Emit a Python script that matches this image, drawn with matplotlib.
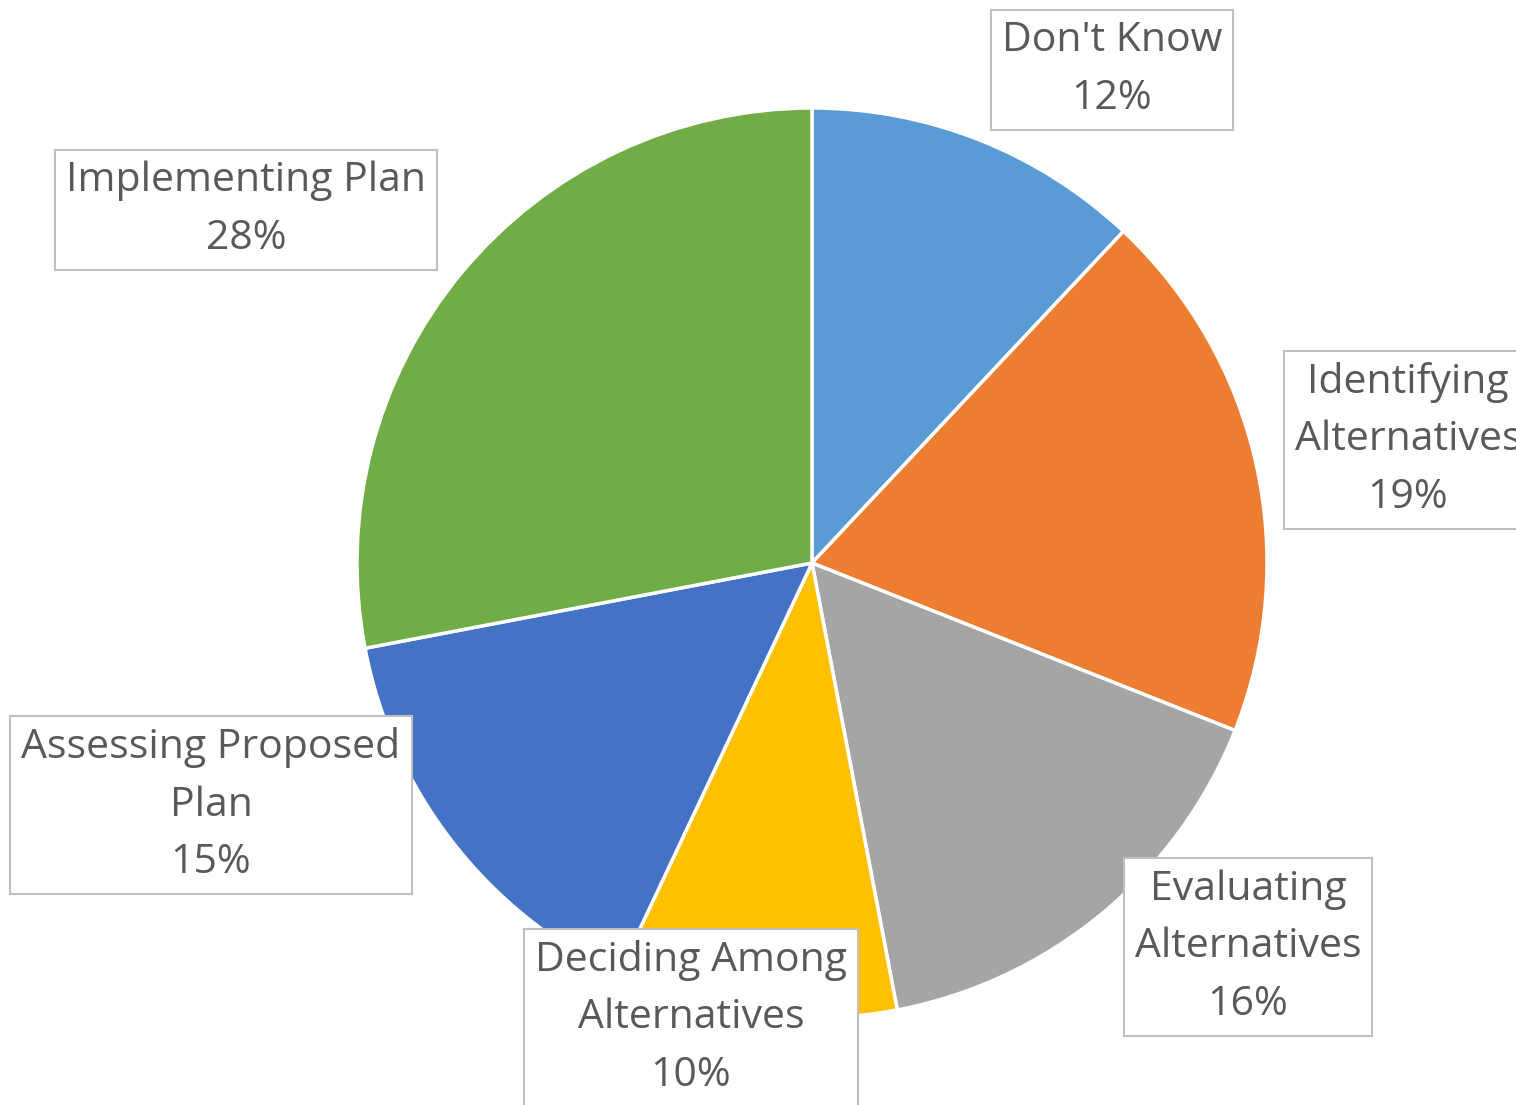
import matplotlib.pyplot as plt

labels = ["Don't Know", "Identifying\nAlternatives", "Evaluating\nAlternatives",
          "Deciding Among\nAlternatives", "Assessing Proposed\nPlan", "Implementing Plan"]
shares = [12, 19, 16, 10, 15, 28]
colors = ["#5B9BD5", "#ED7D31", "#A5A5A5", "#FFC000", "#4472C4", "#70AD47"]

# label box centres (pixel coords, origin top-left)
label_pos = [(1112, 70), (1408, 440), (1248, 947), (691, 1018), (211, 805), (246, 210)]

W, H = 1516, 1105
fig = plt.figure(figsize=(W / 100, H / 100), dpi=100)
ax = fig.add_axes([0, 0, 1, 1])

ax.pie(shares, colors=colors, startangle=90, counterclock=False,
       center=(812, H - 563), radius=455,
       wedgeprops=dict(edgecolor="white", linewidth=2.5))

# pie() resets the limits, so set them afterwards
ax.set_xlim(0, W)
ax.set_ylim(0, H)
ax.set_aspect("equal")
ax.axis("off")

for lab, val, (x, y) in zip(labels, shares, label_pos):
    ax.text(x, H - y, f"{lab}\n{val}%", ha="center", va="center",
            fontsize=29.5, family="Open Sans", color="#595959", linespacing=1.56,
            bbox=dict(boxstyle="square,pad=0.27", fc="white", ec="#BFBFBF", lw=1.5))

fig.savefig("out.png", dpi=100)
